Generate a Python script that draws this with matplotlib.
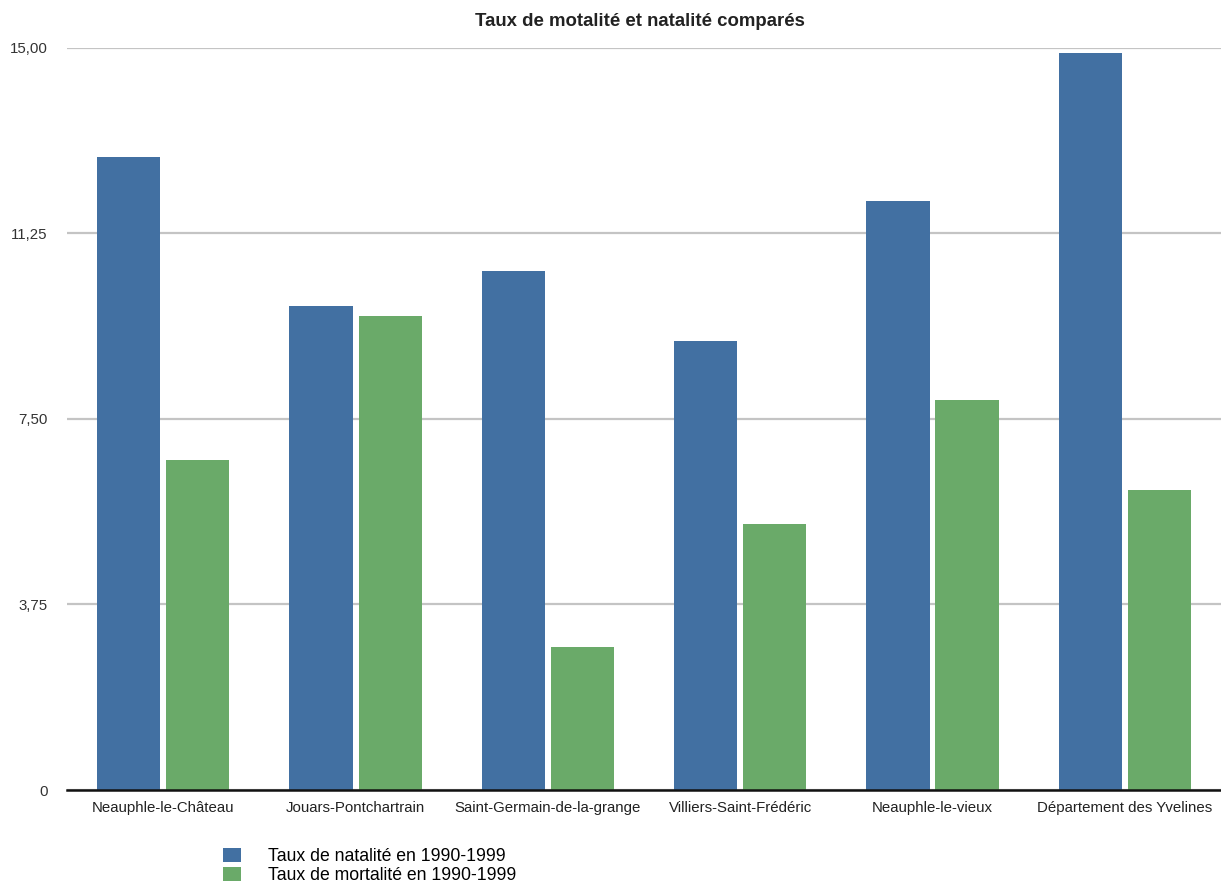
import numpy as np
import matplotlib
matplotlib.use("Agg")
import matplotlib.pyplot as plt
from matplotlib.ticker import FuncFormatter

plt.rcParams['font.family'] = ['Liberation Sans', 'DejaVu Sans']

# data
communes = ["Neauphle-le-Château", "Jouars-Pontchartrain", "Saint-Germain-de-la-grange",
            "Villiers-Saint-Frédéric", "Neauphle-le-vieux", "Département des Yvelines"]
natalite = [12.79, 9.78, 10.48, 9.07, 11.90, 14.89]
mortalite = [6.67, 9.58, 2.89, 5.38, 7.88, 6.06]
yticks = [0, 3.75, 7.5, 11.25, 15]

blue = "#4270a2"
green = "#6aaa69"

fig = plt.figure(figsize=(12.21, 8.84), dpi=100)
ax = fig.add_axes([0.0549, 0.1063, 0.9451, 0.8397])

x = np.arange(len(communes))
w = 0.328
gap = 0.031
ax.bar(x - (w + gap) / 2, natalite, w, color=blue, label="Taux de natalité en 1990-1999", zorder=2)
ax.bar(x + (w + gap) / 2, mortalite, w, color=green, label="Taux de mortalité en 1990-1999", zorder=2)

ax.set_xlim(-0.5, len(communes) - 0.5)
ax.set_ylim(0, 15)
ax.set_yticks(yticks)
ax.yaxis.set_major_formatter(FuncFormatter(
    lambda v, p: "0" if v == 0 else f"{v:.2f}".replace(".", ",")))
ax.grid(axis="y", color="#c4c4c4", linewidth=1.6, zorder=0)
ax.set_xticks(x)
ax.set_xticklabels(communes, fontsize=10.8, color="#222222")
ax.tick_params(axis="both", length=0)
ax.tick_params(axis="y", labelsize=10.8, labelcolor="#333333", pad=14)
ax.tick_params(axis="x", pad=8)
for s in ["top", "right", "left"]:
    ax.spines[s].set_visible(False)
ax.spines["bottom"].set_color("#111111")
ax.spines["bottom"].set_linewidth(1.8)
ax.spines["bottom"].set_zorder(3)

fig.text(0.524, 0.976, "Taux de motalité et natalité comparés", ha="center", va="center",
         fontsize=13.4, fontweight="bold", color="#222222")

fig.legend(loc="upper left", bbox_to_anchor=(0.183, 0.041), frameon=False,
           fontsize=12.7, handlelength=1.0, handleheight=0.9, handletextpad=1.5,
           labelspacing=0.08, borderpad=0, borderaxespad=0)

fig.savefig("out.png", dpi=100)
